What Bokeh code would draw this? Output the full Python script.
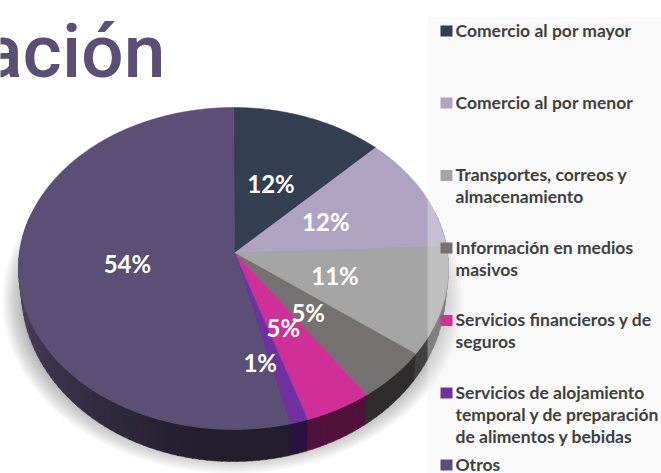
import numpy as np
from bokeh.plotting import figure
from bokeh.models import ColumnDataSource
from bokeh.core.properties import value
from bokeh.embed import file_html
from bokeh.resources import INLINE

categories = ["Comercio al por mayor", "Comercio al por menor", "Transportes, correos y almacenamiento",
              "Información en medios masivos", "Servicios financieros y de seguros",
              "Servicios de alojamiento temporal y de preparación de alimentos y bebidas", "Otros"]
shares = [11.5, 11.3, 11.1, 5.5, 5.0, 1.4, 54.2]
labels = ["12%", "12%", "11%", "5%", "5%", "1%", "54%"]
colors = ["#333f50", "#b0a3c2", "#a5a5a5", "#767171", "#cf2f97", "#7030a0", "#5b4f75"]
legend_lines = [["Comercio al por mayor"], ["Comercio al por menor"],
                ["Transportes, correos y", "almacenamiento"], ["Información en medios", "masivos"],
                ["Servicios financieros y de", "seguros"],
                ["Servicios de alojamiento", "temporal y de preparación", "de alimentos y bebidas"], ["Otros"]]
label_reach = [0.5, 0.49, 0.49, 0.47, 0.47, 0.65, 0.5]
label_dx = [-1, -1, -2, -1, 0, -16, 0]
label_dy = [-2, -2, -2, 2, 1, 0, -8]
legend_base = [36, 108, 180.5, 253, 325.5, 398, 470]

p = figure(width=661, height=473, x_range=(0, 661), y_range=(473, 0), toolbar_location=None,
           output_backend="svg", min_border=0, outline_line_color=None, tools="")
p.axis.visible = False
p.grid.visible = False

CX, CY, RX, RY = 233, 268, 215, 161
AX, AY = 234, 252.5
LCY, LRX, LRY = 290, 212, 171
BASE_SHIFT = 0.37  # the svg text sits this many ems below the requested baseline


def top(t):
    return CX + RX * np.sin(t), CY - RY * np.cos(t)


def low(t):
    return CX + LRX * np.sin(t), LCY - LRY * np.cos(t)


def shade(col, f):
    r, g, b = (int(col[i:i + 2], 16) for i in (1, 3, 5))
    return "#%02x%02x%02x" % (int(r * f), int(g * f), int(b * f))


# shadow
for i in range(14):
    k = i / 13
    p.ellipse(x=[232], y=[300], width=[460 - 56 * k], height=[346 - 56 * k],
              fill_color="black", fill_alpha=0.032, line_color=None)

edges = np.radians(np.cumsum([0] + shares) * 3.6)

# side wall
sx, sy, sc = [], [], []
for i, col in enumerate(colors):
    a, b = edges[i], edges[i + 1]
    n = max(2, int(np.degrees(b - a) / 2))
    ts = np.linspace(a, b, n + 1)
    for t0, t1 in zip(ts[:-1], ts[1:]):
        d = np.degrees(0.5 * (t0 + t1))
        if d < 70 or d > 290:
            continue
        f = 0.39 + 0.41 * np.clip((d - 190) / 75, 0, 1)
        tt = np.linspace(t0, t1 + 0.005, 4)
        x0, y0 = top(tt)
        x1, y1 = low(tt)
        sx.append(np.r_[x0, x1[::-1]].tolist())
        sy.append(np.r_[y0, y1[::-1]].tolist())
        sc.append(shade(col, f))
p.patches("xs", "ys", source=ColumnDataSource(dict(xs=sx, ys=sy, c=sc)), fill_color="c", line_color="c", line_width=0.5)

# top surface
xs, ys = [], []
for i in range(len(shares)):
    tt = np.linspace(edges[i], edges[i + 1], 90)
    x, y = top(tt)
    xs.append(np.r_[AX, x].tolist())
    ys.append(np.r_[AY, y].tolist())
p.patches("xs", "ys", source=ColumnDataSource(dict(xs=xs, ys=ys, c=colors)), fill_color="c", line_color="c", line_width=0.5)

# legend panel veil
p.quad(left=[427], right=[661], top=[16], bottom=[473], fill_color="#eeeeee", fill_alpha=0.36, line_color=None)

# value labels
mids = 0.5 * (edges[:-1] + edges[1:])
mx, my = top(mids)
lx = AX + np.array(label_reach) * (mx - AX) + np.array(label_dx)
ly = AY + np.array(label_reach) * (my - AY) + np.array(label_dy)
p.text(x=lx, y=ly, text=labels, text_color="white", text_font=value("Lato"), text_font_style="bold",
       text_font_size="24px", text_align="center", text_baseline="middle")

# legend
LEG = 17.5
p.quad(left=[440] * 7, right=[452] * 7, top=[b - 11 for b in legend_base], bottom=legend_base,
       fill_color=colors, line_color=None)
tx, ty, tt_ = [], [], []
for lines, base in zip(legend_lines, legend_base):
    for j, s in enumerate(lines):
        tx.append(455)
        ty.append(base + j * 22.3 - BASE_SHIFT * LEG)
        tt_.append(s)
p.text(x=tx, y=ty, text=tt_, text_color="#404040", text_font=value("Lato"), text_font_style="bold",
       text_font_size=f"{LEG}px", text_align="left", text_baseline="alphabetic")

# title fragment
TITLE = 75
p.text(x=[165], y=[78 - BASE_SHIFT * TITLE], text=["ación"], text_color="#5b4f75", text_font=value("Roboto Medium"),
       text_font_size=f"{TITLE}px", text_align="right", text_baseline="alphabetic")

open("out.html", "w").write(file_html(p, INLINE))
